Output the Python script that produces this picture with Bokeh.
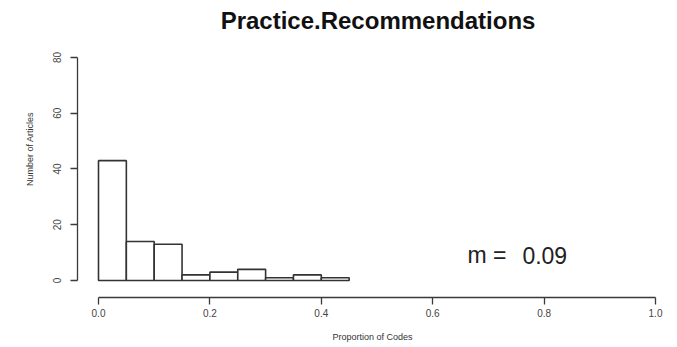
from bokeh.plotting import figure
from bokeh.models import FixedTicker, Label, CustomJSTickFormatter
from bokeh.embed import file_html
from bokeh.resources import INLINE

# Histogram data (bin width 0.05)
bin_left = [0.00, 0.05, 0.10, 0.15, 0.20, 0.25, 0.30, 0.35, 0.40]
bin_right = [0.05, 0.10, 0.15, 0.20, 0.25, 0.30, 0.35, 0.40, 0.45]
counts = [43, 14, 13, 2, 3, 4, 1, 2, 1]
x_ticks = [0.0, 0.2, 0.4, 0.6, 0.8, 1.0]
y_ticks = [0, 20, 40, 60, 80]
mean_label = "0.09"
title_text = "Practice.Recommendations"

FONT = "Liberation Sans"
AX = "#3a3a3a"

# frame spans the full top of the canvas; axes are bounded like R's
p = figure(width=677, height=347, output_backend="svg", toolbar_location=None,
           x_range=(-0.0377, 1.0215), y_range=(-6.1, 100.45),
           min_border_left=77, min_border_right=10, min_border_top=0,
           min_border_bottom=50)
p.title = None

p.quad(left=bin_left, right=bin_right, top=counts, bottom=0,
       fill_color="white", line_color="#333333", line_width=1.6)

p.outline_line_color = None
p.xgrid.visible = False
p.ygrid.visible = False
p.background_fill_color = "white"
p.border_fill_color = "white"

xa = p.xaxis[0]
xa.ticker = FixedTicker(ticks=x_ticks)
xa.formatter = CustomJSTickFormatter(code="return tick.toFixed(1);")
xa.bounds = (0, 1)
xa.axis_label = "Proportion of Codes"
ya = p.yaxis[0]
ya.ticker = FixedTicker(ticks=y_ticks)
ya.bounds = (0, 80)
ya.axis_label = "Number of Articles"
ya.major_label_orientation = "vertical"

for ax in (xa, ya):
    ax.axis_line_color = AX
    ax.axis_line_width = 1.3
    ax.major_tick_line_color = AX
    ax.major_tick_line_width = 1.3
    ax.major_tick_out = 7
    ax.major_tick_in = 0
    ax.minor_tick_line_color = None
    ax.major_label_text_font = FONT
    ax.major_label_text_font_size = "10px"
    ax.major_label_text_color = "#444444"
    ax.axis_label_text_font = FONT
    ax.axis_label_text_font_size = "9px"
    ax.axis_label_text_font_style = "normal"
    ax.axis_label_text_color = "#333333"

xa.major_label_standoff = 4
xa.axis_label_standoff = 12
ya.major_label_standoff = 9
ya.axis_label_standoff = 16

# Title drawn as a label in the (taller) frame, above the bounded y axis
p.add_layout(Label(x=0.5018, y=93.3, text=title_text,
                   text_font=FONT, text_font_size="24px", text_font_style="bold",
                   text_align="center", text_baseline="alphabetic", text_color="#111111"))

p.add_layout(Label(x=0.6625, y=9.0, text="m =", text_font=FONT, text_font_size="23px",
                   text_baseline="middle", text_color="#222222"))
p.add_layout(Label(x=0.761, y=9.0, text=mean_label, text_font=FONT, text_font_size="23px",
                   text_baseline="middle", text_color="#222222"))

open("out.html", "w").write(file_html(p, INLINE))
